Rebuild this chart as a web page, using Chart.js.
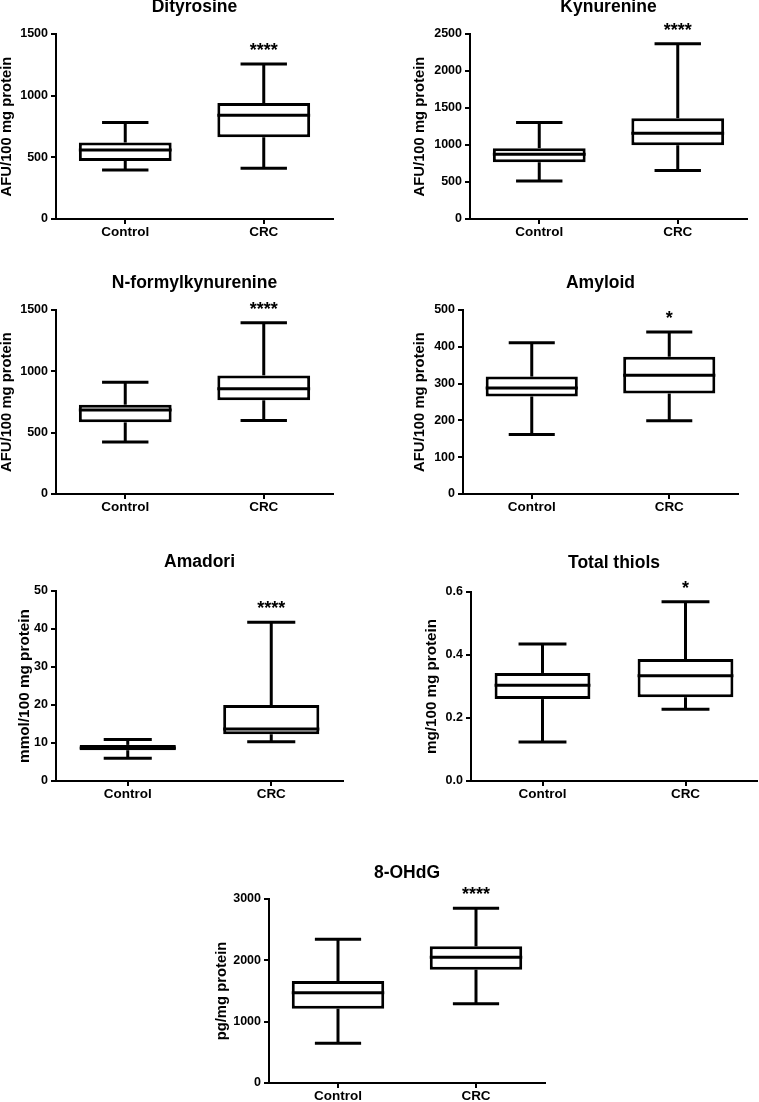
<!DOCTYPE html>
<html><head><meta charset="utf-8">
<script src="https://cdn.jsdelivr.net/npm/chart.js@4.4.1/dist/chart.umd.min.js"></script>
<style>
html,body{margin:0;padding:0;background:#fff;}
#root{position:relative;width:759px;height:1102px;overflow:hidden;background:#fff;}
canvas{position:absolute;}
</style></head><body>
<div id="root"></div>
<script>
// ---------- DATA ----------
const categories = ['Control', 'CRC'];
const panelTitles = ['Dityrosine', 'Kynurenine', 'N-formylkynurenine', 'Amyloid', 'Amadori', 'Total thiols', '8-OHdG'];
const yAxisTitles = ['AFU/100 mg protein', 'AFU/100 mg protein', 'AFU/100 mg protein', 'AFU/100 mg protein', 'mmol/100 mg protein', 'mg/100 mg protein', 'pg/mg protein'];
const yAxisMax = [1500, 2500, 1500, 500, 50, 0.6, 3000];
const yTickStep = [500, 500, 500, 100, 10, 0.2, 1000];
const yTickDecimals = [0, 0, 0, 0, 0, 1, 0];
const significance = ['****', '****', '****', '*', '****', '*', '****'];
// each entry: [Control, CRC]
const whiskerMin = [[398, 412], [514, 654], [424, 600], [162, 199], [6.0, 10.3], [0.124, 0.228], [647, 1293]];
const quartile1  = [[471, 663], [767, 997], [584, 764], [265, 273], [8.1, 12.3], [0.260, 0.266], [1212, 1848]];
const medians    = [[560, 842], [875, 1160], [685, 859], [288, 323], [8.7, 13.7], [0.304, 0.334], [1473, 2049]];
const quartile3  = [[620, 940], [957, 1363], [728, 967], [319, 373], [9.5, 20.0], [0.343, 0.387], [1663, 2228]];
const whiskerMax = [[782, 1256], [1304, 2369], [910, 1397], [411, 440], [10.9, 41.8], [0.435, 0.569], [2343, 2848]];

// ---------- LAYOUT (positions / sizes) ----------
const panelLayout = [
  {titleY: 7,   yTitleX: 7,   l: 56,  t: 34,  r: 333, b: 219, yTitleSize: 14.8},
  {titleY: 7,   yTitleX: 420, l: 470, t: 34,  r: 747, b: 219, yTitleSize: 14.8},
  {titleY: 283, yTitleX: 7,   l: 56,  t: 310, r: 333, b: 494, yTitleSize: 14.8},
  {titleY: 283, yTitleX: 420, l: 463, t: 310, r: 738, b: 494, yTitleSize: 14.8},
  {titleY: 562, yTitleX: 25,  l: 56,  t: 591, r: 343, b: 781, yTitleSize: 15.3},
  {titleY: 563, yTitleX: 432, l: 471, t: 592, r: 757, b: 781, yTitleSize: 15.2},
  {titleY: 873, yTitleX: 222, l: 269, t: 899, r: 545, b: 1083, yTitleSize: 14.8}
];

const FONT = '"Liberation Sans", Arial, Helvetica, sans-serif';
Chart.defaults.font.family = FONT;
Chart.defaults.color = '#000';

const boxWhiskerPlugin = {
  id: 'boxWhisker',
  afterDatasetsDraw(chart, args, opts) {
    const i = opts.panel;
    const ctx = chart.ctx;
    const ys = chart.scales.y;
    const meta = chart.getDatasetMeta(0);
    ctx.save();
    ctx.strokeStyle = '#000';
    ctx.lineWidth = 3;
    ctx.lineCap = 'butt';
    const line = (x1, y1, x2, y2) => { ctx.beginPath(); ctx.moveTo(x1, y1); ctx.lineTo(x2, y2); ctx.stroke(); };
    meta.data.forEach((bar, j) => {
      const x = bar.x, half = bar.width / 2, cap = bar.width / 4;
      const pMin = ys.getPixelForValue(whiskerMin[i][j]);
      const pQ1 = ys.getPixelForValue(quartile1[i][j]);
      const pMed = ys.getPixelForValue(medians[i][j]);
      const pQ3 = ys.getPixelForValue(quartile3[i][j]);
      const pMax = ys.getPixelForValue(whiskerMax[i][j]);
      line(x, pQ3, x, pMax);
      line(x - cap, pMax, x + cap, pMax);
      line(x, pQ1, x, pMin);
      line(x - cap, pMin, x + cap, pMin);
      line(x - half, pMed, x + half, pMed);
    });
    const crc = meta.data[1];
    ctx.fillStyle = '#000';
    ctx.font = 'bold 18px ' + FONT;
    ctx.textAlign = 'center';
    ctx.textBaseline = 'middle';
    ctx.fillText(significance[i], crc.x, ys.getPixelForValue(whiskerMax[i][1]) - 13);
    ctx.restore();
  }
};

const root = document.getElementById('root');
panelTitles.forEach((title, i) => {
  const L = panelLayout[i];
  const cl = L.yTitleX - 12, ct = L.titleY - 20, cr = L.r + 2, cb = L.b + 30;
  const canvas = document.createElement('canvas');
  canvas.width = cr - cl; canvas.height = cb - ct;
  canvas.style.left = cl + 'px'; canvas.style.top = ct + 'px';
  canvas.style.width = (cr - cl) + 'px'; canvas.style.height = (cb - ct) + 'px';
  root.appendChild(canvas);
  const titleSize = 17.5, titleLH = titleSize * 1.2;
  const yLH = L.yTitleSize * 1.2;
  new Chart(canvas, {
    type: 'bar',
    data: {
      labels: categories,
      datasets: [{
        data: quartile1[i].map((q, j) => [q, quartile3[i][j]]),
        backgroundColor: '#fff',
        borderColor: '#000',
        borderWidth: 3,
        borderSkipped: false,
        barPercentage: 0.67,
        categoryPercentage: 1
      }]
    },
    options: {
      responsive: false,
      animation: false,
      devicePixelRatio: 1,
      layout: {padding: {left: 0, top: 0, right: cr - L.r, bottom: 0}},
      plugins: {
        legend: {display: false},
        tooltip: {enabled: false},
        title: {
          display: true, text: title, fullSize: false, color: '#000',
          font: {size: titleSize, weight: 'bold', lineHeight: 1.2},
          padding: {top: 20 - titleLH / 2, bottom: (L.t - ct) - (20 - titleLH / 2) - titleLH}
        },
        boxWhisker: {panel: i}
      },
      scales: {
        x: {
          type: 'category',
          offset: true,
          grid: {display: true, drawOnChartArea: false, drawTicks: true, tickLength: 5, color: '#000', lineWidth: 2, offset: false},
          border: {display: true, color: '#000', width: 2},
          ticks: {font: {size: 13.5, weight: 'bold'}, color: '#000', padding: 0, maxRotation: 0},
          afterFit: (s) => { s.height = cb - L.b; }
        },
        y: {
          min: 0, max: yAxisMax[i],
          grid: {display: true, drawOnChartArea: false, drawTicks: true, tickLength: 5, color: '#000', lineWidth: 2},
          border: {display: true, color: '#000', width: 2},
          ticks: {stepSize: yTickStep[i], font: {size: 12.5, weight: 'bold'}, color: '#000', padding: 3,
                  callback: (v) => Number(v).toFixed(yTickDecimals[i])},
          title: {display: true, text: yAxisTitles[i], color: '#000',
                  font: {size: L.yTitleSize, weight: 'bold', lineHeight: 1.2},
                  padding: {top: 12 - yLH / 2, bottom: 0}},
          afterFit: (s) => { s.width = L.l - cl; }
        }
      }
    },
    plugins: [boxWhiskerPlugin]
  });
});
</script>
</body></html>
